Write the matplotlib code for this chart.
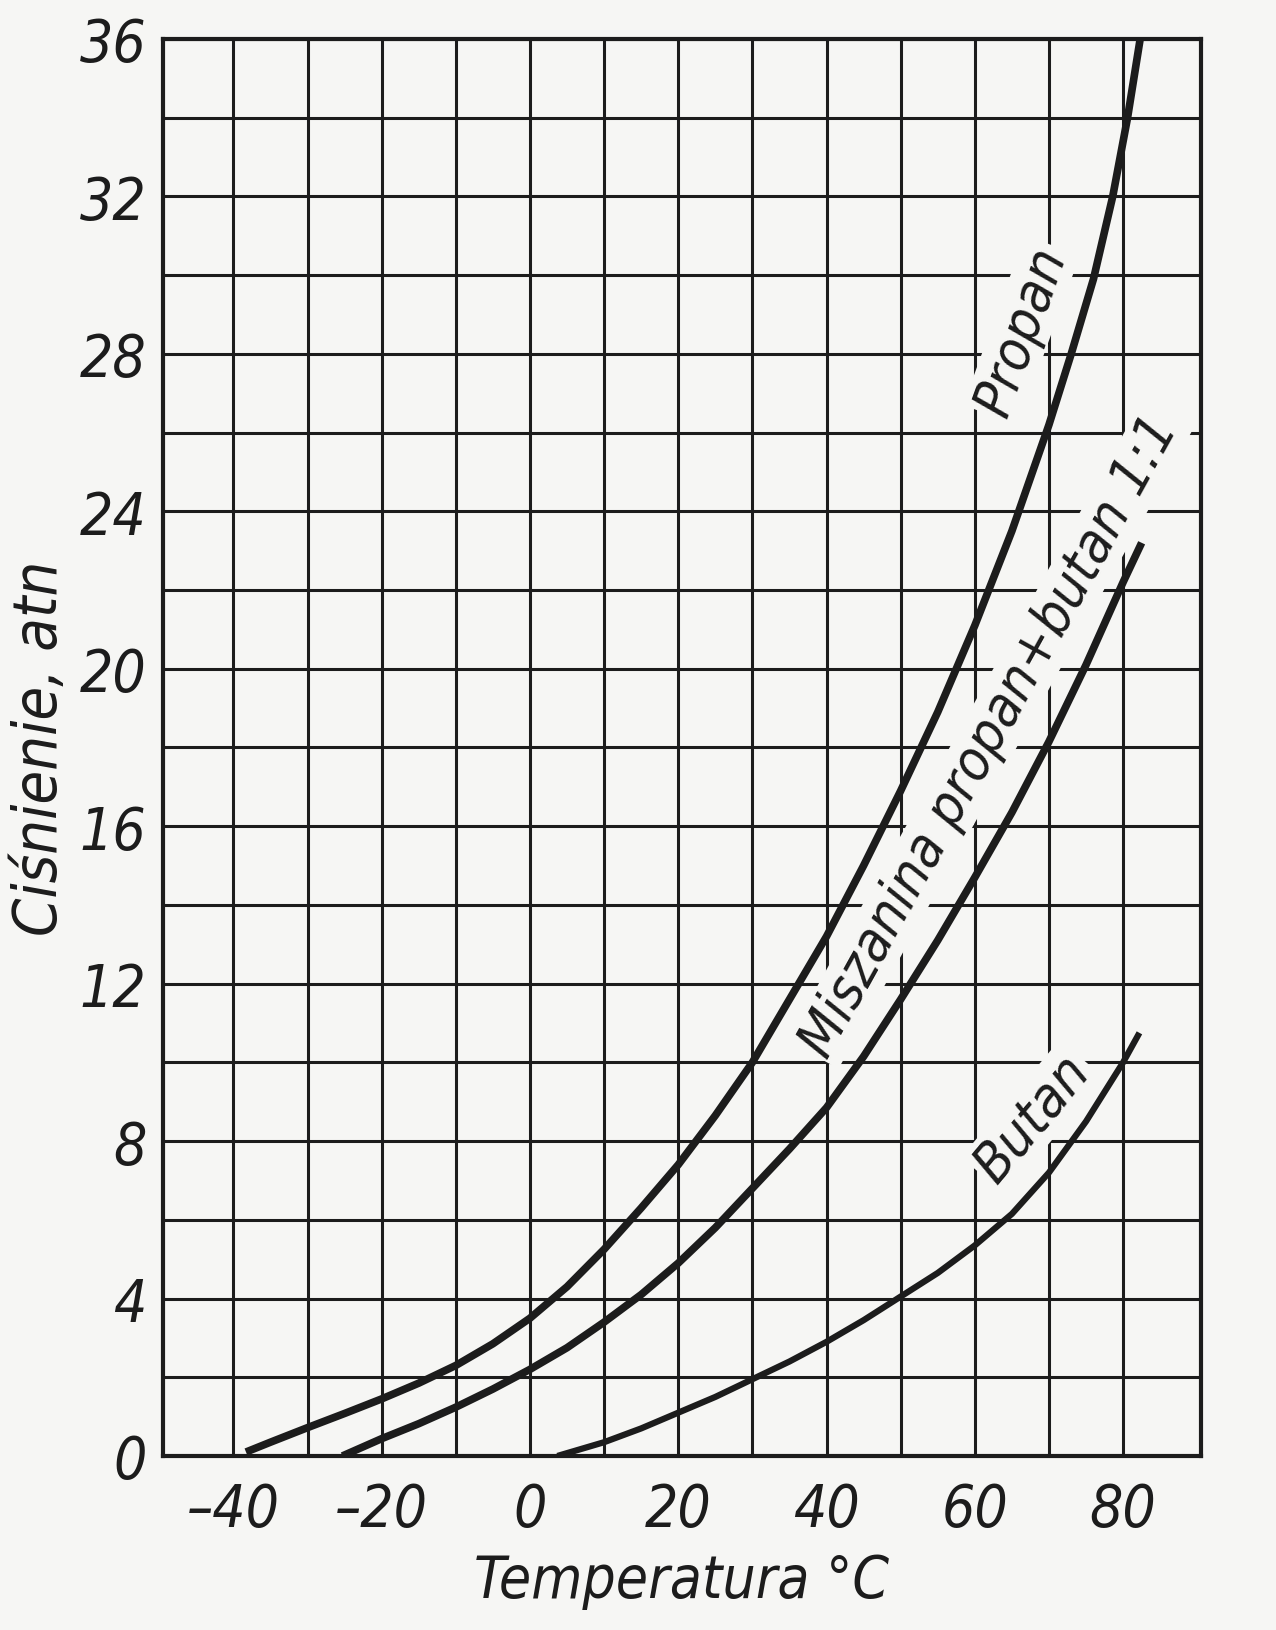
import numpy as np
import matplotlib
matplotlib.use("Agg")
import matplotlib.pyplot as plt
from matplotlib import font_manager

# pick a narrow face if one is installed, the scan uses a condensed italic
fonts = font_manager.fontManager.ttflist
names = {f.name for f in fonts}
stretch = 'normal'
if 'Liberation Sans Narrow' in names:
    family = 'Liberation Sans Narrow'
elif 'DejaVu Sans Condensed' in names:
    family = 'DejaVu Sans Condensed'
elif any(f.name == 'DejaVu Sans' and f.stretch == 'condensed' for f in fonts):
    family, stretch = 'DejaVu Sans', 'condensed'
else:
    family = 'DejaVu Sans'
plt.rcParams['font.family'] = [family, 'DejaVu Sans']
plt.rcParams['font.stretch'] = stretch
plt.rcParams['font.style'] = 'italic'

# values (temperature degC, pressure atn)
propan_t = [-38.3, -35, -30, -25, -20, -15, -10, -5, 0, 5, 10, 15, 20, 25, 30, 35,
            40, 45, 50, 55, 60, 65, 70, 73, 76, 78.6, 80.6, 82.3]
propan_p = [0.1, 0.35, 0.72, 1.08, 1.45, 1.85, 2.3, 2.85, 3.5, 4.3, 5.25, 6.3, 7.4, 8.65, 10.0, 11.6,
            13.2, 15.0, 16.9, 18.9, 21.1, 23.5, 26.2, 28.0, 29.9, 32.0, 34.0, 36.0]

mix_t = [-25.3, -20, -15, -10, -5, 0, 5, 10, 15, 20, 25, 30, 35, 40,
         45, 50, 55, 60, 65, 70, 75, 80, 82.5]
mix_p = [0.0, 0.44, 0.82, 1.24, 1.7, 2.2, 2.75, 3.4, 4.1, 4.9, 5.8, 6.8, 7.8, 8.85,
         10.15, 11.6, 13.1, 14.7, 16.35, 18.15, 20.1, 22.2, 23.2]

butan_t = [3.7, 10, 15, 20, 25, 30, 35, 40, 45, 50, 55, 60, 65, 70, 75, 80, 82.2]
butan_p = [0.0, 0.35, 0.7, 1.1, 1.5, 1.95, 2.4, 2.9, 3.45, 4.05, 4.65, 5.35, 6.15, 7.2, 8.5, 10.0, 10.75]

x_ticks = [-40, -20, 0, 20, 40, 60, 80]
y_ticks = [0, 4, 8, 12, 16, 20, 24, 28, 32, 36]

ink = '#1c1c1c'
paper = '#f6f6f4'

fig = plt.figure(figsize=(12.76, 16.31), dpi=100, facecolor=paper)
ax = fig.add_axes([0.1277, 0.1067, 0.8135, 0.8688], facecolor=paper)

ax.set_xlim(-49.5, 90.5)
ax.set_ylim(0, 36)

# grid: every 10 degC and every 2 atn
ax.set_xticks(np.arange(-40, 90, 10), minor=True)
ax.set_yticks(np.arange(2, 36, 2), minor=True)
ax.set_xticks(x_ticks)
ax.set_yticks(y_ticks)
ax.set_xticklabels([str(v).replace('-', '\u2013') for v in x_ticks])
ax.grid(True, which='both', color=ink, lw=2.2, zorder=0.5)
ax.set_axisbelow(True)
ax.tick_params(which='both', length=0, labelsize=42, colors=ink)
ax.tick_params(axis='x', pad=18)
ax.tick_params(axis='y', pad=12)
for s in ax.spines.values():
    s.set_linewidth(3)
    s.set_color(ink)

ax.plot(propan_t, propan_p, color=ink, lw=5.5, solid_capstyle='butt', zorder=3)
ax.plot(mix_t, mix_p, color=ink, lw=5.5, solid_capstyle='butt', zorder=3)
ax.plot(butan_t, butan_p, color=ink, lw=4.5, solid_capstyle='butt', zorder=3)

box = dict(facecolor=paper, edgecolor='none', pad=2)
ax.text(66.3, 28.6, "Propan", rotation=70, fontsize=40, color=ink,
        ha='center', va='center', bbox=box, zorder=2)
ax.text(62.0, 18.3, "Miszanina propan+butan 1:1", rotation=61, fontsize=40, color=ink,
        ha='center', va='center', bbox=box, zorder=2)
ax.text(67.8, 8.6, "Butan", rotation=50, fontsize=40, color=ink,
        ha='center', va='center', bbox=box, zorder=2)

ax.set_xlabel("Temperatura \u00b0C", fontsize=42, color=ink)
ax.xaxis.set_label_coords(0.5, -0.068)
ax.set_ylabel("Ciśnienie, atn", fontsize=44, color=ink)
ax.yaxis.set_label_coords(-0.09, 0.5)

fig.savefig("out.png", dpi=100, facecolor=paper)
